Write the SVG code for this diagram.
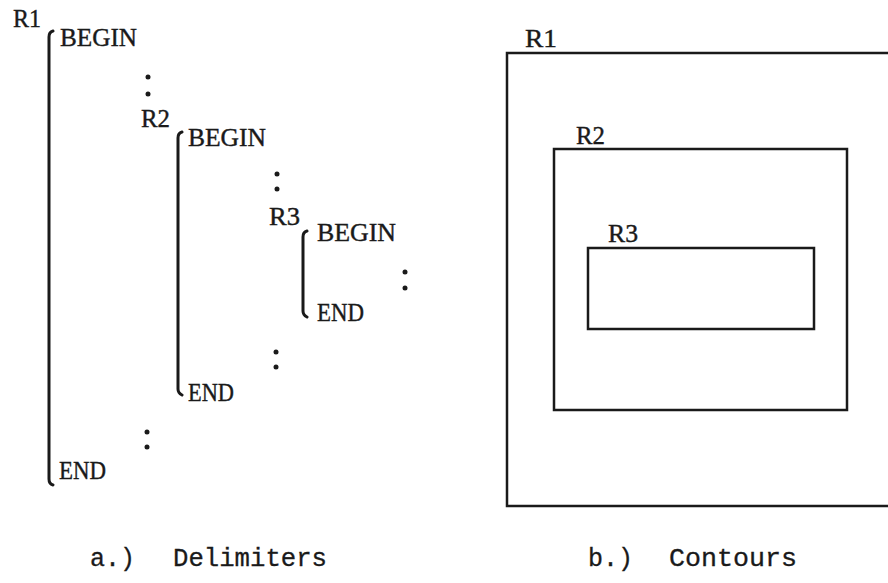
<svg xmlns="http://www.w3.org/2000/svg" width="888" height="583" viewBox="0 0 888 583">
<style>
.code{font-family:"Liberation Serif","Times New Roman",serif;font-size:25px;fill:#1a1a1a;stroke:#1a1a1a;stroke-width:0.4}
.cap{font-family:"Liberation Mono","Courier New",monospace;font-size:25px;fill:#1a1a1a;stroke:#1a1a1a;stroke-width:0.3}
.br{fill:none;stroke:#1a1a1a;stroke-width:3;stroke-linecap:round;stroke-linejoin:round}
.box{fill:none;stroke:#1a1a1a;stroke-width:2.5}
.dot{fill:#1a1a1a}
</style>
<rect width="888" height="583" fill="#ffffff"/>
<g id="delimiters">
  <g id="R1-block">
    <text class="code" x="13" y="27" textLength="28" lengthAdjust="spacingAndGlyphs">R1</text>
    <path class="br" d="M53,31 Q49,32 49,37 L49,479 Q49,484 53,485"/>
    <text class="code" x="60" y="46" textLength="77" lengthAdjust="spacingAndGlyphs">BEGIN</text>
    <circle class="dot" cx="148" cy="77" r="2.5"/>
    <circle class="dot" cx="148" cy="94" r="2.5"/>
    <circle class="dot" cx="147" cy="432" r="2.5"/>
    <circle class="dot" cx="147" cy="447" r="2.5"/>
    <text class="code" x="59" y="479" textLength="47" lengthAdjust="spacingAndGlyphs">END</text>
  </g>
  <g id="R2-block">
    <text class="code" x="141" y="127" textLength="29" lengthAdjust="spacingAndGlyphs">R2</text>
    <path class="br" d="M182,132 Q178,133 178,138 L178,389 Q178,393 182,395"/>
    <text class="code" x="188" y="146" textLength="78" lengthAdjust="spacingAndGlyphs">BEGIN</text>
    <circle class="dot" cx="277" cy="174" r="2.5"/>
    <circle class="dot" cx="277" cy="189" r="2.5"/>
    <circle class="dot" cx="276" cy="352" r="2.5"/>
    <circle class="dot" cx="276" cy="367" r="2.5"/>
    <text class="code" x="188" y="401" textLength="46" lengthAdjust="spacingAndGlyphs">END</text>
  </g>
  <g id="R3-block">
    <text class="code" x="269" y="225" textLength="31" lengthAdjust="spacingAndGlyphs">R3</text>
    <path class="br" d="M307,231 Q303,232 303,237 L303,311 Q303,315 307,317"/>
    <text class="code" x="317" y="241" textLength="79" lengthAdjust="spacingAndGlyphs">BEGIN</text>
    <circle class="dot" cx="405" cy="272" r="2.5"/>
    <circle class="dot" cx="405" cy="288" r="2.5"/>
    <text class="code" x="317" y="321" textLength="47" lengthAdjust="spacingAndGlyphs">END</text>
  </g>
</g>
<g id="contours">
  <g id="R1-contour">
    <text class="code" x="525" y="47" textLength="32" lengthAdjust="spacingAndGlyphs">R1</text>
    <path class="box" d="M892,53 L507,53 L507,506 L892,506"/>
  </g>
  <g id="R2-contour">
    <text class="code" x="576" y="144" textLength="29" lengthAdjust="spacingAndGlyphs">R2</text>
    <rect class="box" x="554" y="149" width="293" height="261"/>
  </g>
  <g id="R3-contour">
    <text class="code" x="608" y="242" textLength="30" lengthAdjust="spacingAndGlyphs">R3</text>
    <rect class="box" x="588" y="248" width="226" height="81"/>
  </g>
</g>
<g id="captions">
  <text class="cap" x="90" y="566">a.)</text>
  <text class="cap" x="173" y="566" textLength="154" lengthAdjust="spacingAndGlyphs">Delimiters</text>
  <text class="cap" x="588" y="566">b.)</text>
  <text class="cap" x="669" y="566" textLength="128" lengthAdjust="spacingAndGlyphs">Contours</text>
</g>
</svg>
